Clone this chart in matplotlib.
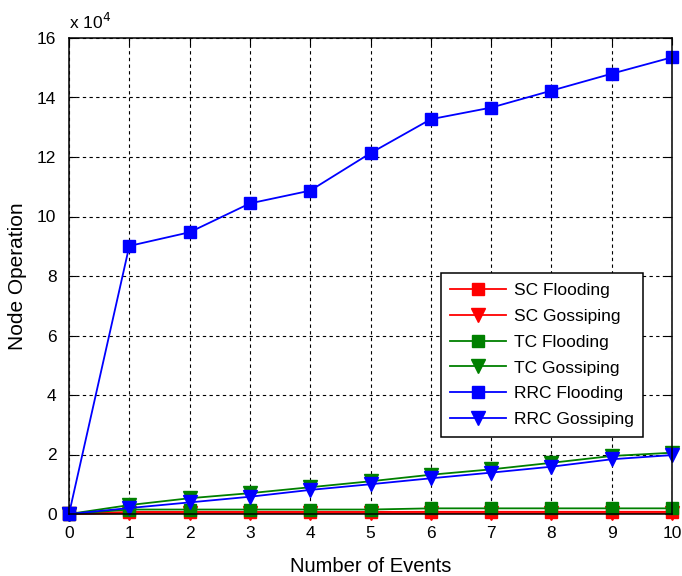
import matplotlib
matplotlib.use("Agg")
import matplotlib.pyplot as plt
from matplotlib.ticker import FuncFormatter, MultipleLocator

plt.rcParams["font.family"] = ["Liberation Sans", "DejaVu Sans"]

# Number of events (x axis)
EVENTS = [0, 1, 2, 3, 4, 5, 6, 7, 8, 9, 10]

# Node operations per protocol (raw counts)
SC_FLOODING = [0, 700, 700, 700, 700, 700, 750, 750, 750, 750, 750]
SC_GOSSIPING = [0, 300, 300, 300, 300, 300, 300, 300, 300, 300, 300]
TC_FLOODING = [0, 1500, 1500, 1500, 1500, 1500, 1900, 1900, 1900, 1900, 1900]
TC_GOSSIPING = [0, 3000, 5300, 7000, 9000, 11000, 13200, 15000, 17200, 19500, 20600]
RRC_FLOODING = [0, 90100, 94700, 104400, 108700, 121300, 132700,
                136600, 142300, 148000, 153500]
RRC_GOSSIPING = [0, 2000, 3900, 5800, 8100, 10000, 12000, 13900, 15900, 18400, 19800]

SERIES = [
    ("SC Flooding", SC_FLOODING, "red", "s"),
    ("SC Gossiping", SC_GOSSIPING, "red", "v"),
    ("TC Flooding", TC_FLOODING, "green", "s"),
    ("TC Gossiping", TC_GOSSIPING, "green", "v"),
    ("RRC Flooding", RRC_FLOODING, "blue", "s"),
    ("RRC Gossiping", RRC_GOSSIPING, "blue", "v"),
]
COLORS = {"red": "#ff0000", "green": "#008000", "blue": "#0000ff"}

fig = plt.figure(figsize=(6.82, 5.76), dpi=100)
ax = fig.add_axes([69 / 682, 1 - 514 / 576, 603 / 682, 476 / 576])

for label, vals, c, m in SERIES:
    ax.plot(EVENTS, vals, color=COLORS[c], marker=m,
            markersize=9.5 if m == "v" else 9,
            linewidth=1.3, label=label, clip_on=False)

ax.set_xlim(0, 10)
ax.set_ylim(0, 160000)
ax.xaxis.set_major_locator(MultipleLocator(1))
ax.yaxis.set_major_locator(MultipleLocator(20000))
ax.yaxis.set_major_formatter(FuncFormatter(lambda v, p: f"{v / 1e4:g}"))

ax.grid(True, color="black", linestyle=(0, (3, 3)), linewidth=0.8)
ax.tick_params(direction="in", top=True, right=True, labelsize=12.5,
               length=5, width=0.8)
ax.tick_params(axis="x", pad=9)
ax.tick_params(axis="y", pad=9)
for s in ax.spines.values():
    s.set_linewidth(1.1)

ax.text(0, 1.012, r"x 10$^4$", transform=ax.transAxes, fontsize=12.5,
        ha="left", va="bottom")

ax.set_xlabel("Number of Events", fontsize=14.5, labelpad=11)
ax.set_ylabel("Node Operation", fontsize=15, labelpad=7)

leg = ax.legend(loc="lower right", bbox_to_anchor=(0.952, 0.162),
                borderaxespad=0, fontsize=12.5, fancybox=False, framealpha=1,
                edgecolor="black", handlelength=3.2, handletextpad=0.45,
                borderpad=0.55, labelspacing=0.62)
leg.get_frame().set_linewidth(1.1)

fig.savefig("out.png", dpi=100)
